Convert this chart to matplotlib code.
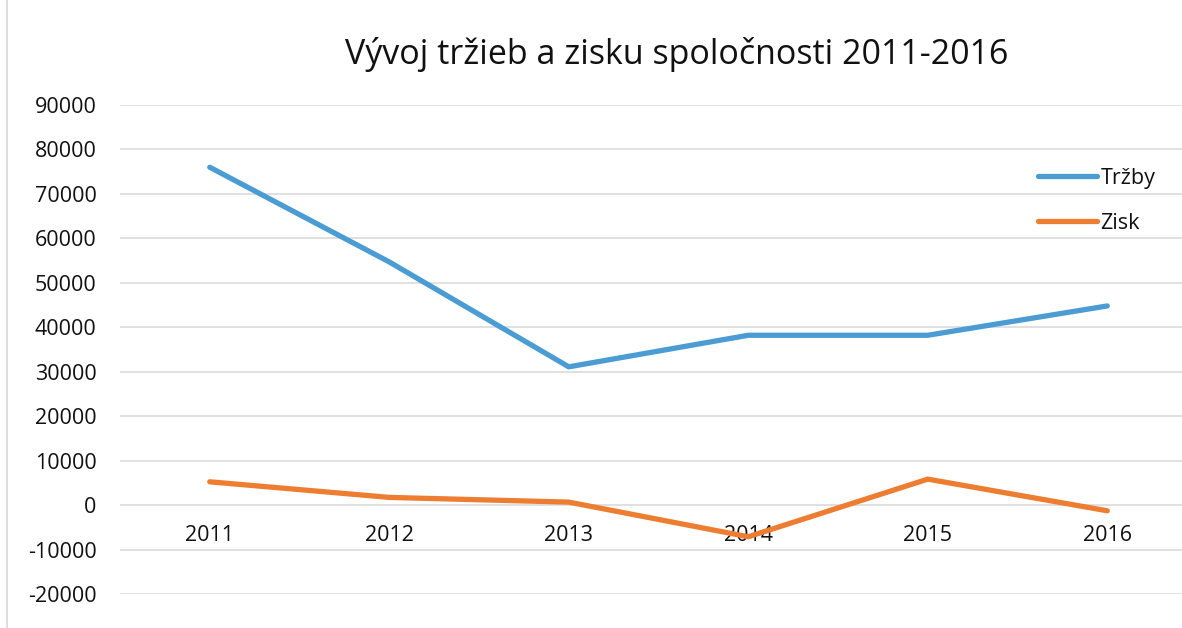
import matplotlib.pyplot as plt
from matplotlib.lines import Line2D

plt.rcParams['font.family'] = ['Open Sans', 'DejaVu Sans']

roky = ["2011", "2012", "2013", "2014", "2015", "2016"]
trzby = [76000, 54700, 31100, 38200, 38200, 44800]
zisk = [5240, 1730, 670, -7120, 5840, -1280]

fig = plt.figure(figsize=(11.82, 6.28), dpi=100)
W, H = 1182, 628
# plot area in pixels (the right side of the original chart is cut off)
left, right, top, bottom = 120, 1197, 105, 594
ax = fig.add_axes([left / W, 1 - bottom / H, (right - left) / W, (bottom - top) / H])

x = list(range(len(roky)))
ax.plot(x, trzby, color="#4B9CD3", lw=3.8, solid_capstyle="round", solid_joinstyle="round", label="Tržby", zorder=3)
ax.plot(x, zisk, color="#ED7D31", lw=3.8, solid_capstyle="round", solid_joinstyle="round", label="Zisk", zorder=3)

ax.set_xlim(-0.5, len(roky) - 0.5)
ax.set_ylim(-20000, 90000)
ax.set_yticks(range(-20000, 90001, 10000))
ax.set_yticklabels([str(v) for v in range(-20000, 90001, 10000)])
ax.set_xticks(x)
ax.set_xticklabels(roky)
ax.grid(axis="y", color="#DDDDDD", lw=1.3)
ax.set_axisbelow(True)
ax.spines["bottom"].set_position(("data", 0))
for s in ax.spines.values():
    s.set_visible(False)
ax.tick_params(axis="both", length=0, labelsize=15.5, labelcolor="#111111")
ax.tick_params(axis="y", pad=17)
ax.tick_params(axis="x", pad=14)

fig.text(677 / W, 1 - 55 / H, "Vývoj tržieb a zisku spoločnosti 2011-2016",
         ha="center", va="center", fontsize=24.5, color="#111111")

leg = ax.legend(loc="upper left", bbox_to_anchor=(1038 / W, 1 - 168 / H),
                bbox_transform=fig.transFigure, frameon=False, fontsize=15.5,
                handlelength=2.75, handletextpad=0.15, labelspacing=1.1,
                borderpad=0, borderaxespad=0)
for t in leg.get_texts():
    t.set_color("#111111")

# chart area border on the left
fig.add_artist(Line2D([7 / W, 7 / W], [0, 1], color="#D9D9D9", lw=1.2))

fig.savefig("out.png", dpi=100)
plt.close()
